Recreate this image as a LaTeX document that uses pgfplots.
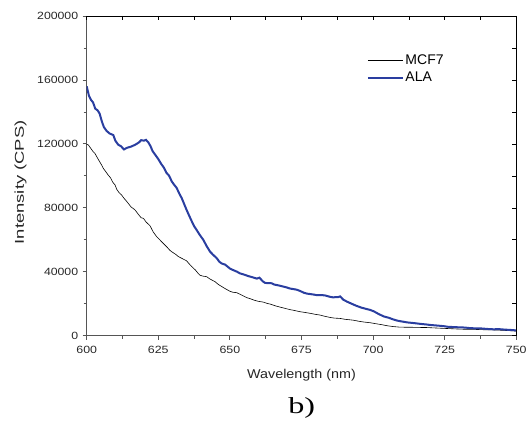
\documentclass[border=0pt]{standalone}
\usepackage{pgfplots}
\pgfplotsset{compat=1.18}
\usepackage{fontspec}
\setmainfont{Liberation Sans}
\newfontfamily\timesfont{Liberation Serif}
\definecolor{alablue}{RGB}{42,62,160}
\definecolor{axgray}{RGB}{85,85,85}

\pgfplotstableread{
x y
600 156000
600.8 150000
601.5 147500
602.2 146000
603 142000
603.8 141000
604.5 139000
605.3 134000
606 130500
607 128000
608 126500
609.3 125500
610 122000
611 119500
612 118500
613 116500
614 117500
615.5 118300
617 119500
618.3 121000
619 122300
620 122000
620.7 122500
621.5 121000
622.3 118500
623 115500
624 113000
625 110500
626 107500
627 105000
627.8 102000
628.8 100000
629.7 96500
630.5 94500
631.4 92500
632.3 89000
633.2 86000
634 82500
634.9 78600
635.8 75000
636.7 71500
637.5 68500
638.4 66100
639.5 63000
640.7 60000
641.9 56000
643.1 52500
644.2 50500
645.4 48500
646.3 46300
647.1 45200
648.3 44500
649 43500
650 42000
651.2 41000
652.5 40000
653.5 39000
655 38200
656.4 37300
658 36500
659.4 35700
660.3 36300
661.5 34000
662.3 33000
664.6 32800
665.5 32000
666.9 31500
668 31000
669.8 30200
671 29500
673.3 28800
674.5 28000
675.9 26800
677 26300
679 25800
680.3 25400
682 25400
683.2 25200
685 24300
686 24000
687.9 24200
688.5 24600
689.6 22500
691 21200
692.5 20000
694 18800
696 17500
697.5 16800
699 16100
700.3 15200
702 13500
703.8 12000
705.5 11200
707 10200
708.5 9400
710 8900
712 8300
714.2 7900
716.5 7400
718.7 7000
720 6700
722 6400
724.5 6000
726 5600
728 5400
730.4 5200
732 5100
734 4700
736.2 4600
738 4500
740 4200
742 4000
744 4100
746 3800
748 3600
750 3300
}\alatable

\pgfplotstableread{
x y
600 119700
600.6 119300
601.5 117000
602.3 115000
602.9 114000
603.5 112000
604.3 109500
605.2 106800
605.8 104700
606.5 103000
607.5 100500
608.3 98800
609.1 96000
609.9 94300
610.5 91500
611.3 89500
612.2 88000
613.0 86000
613.5 85000
614.5 82800
615.5 80500
616.3 79500
616.9 78600
618 76000
619 73800
619.8 73400
620.8 71000
622.1 68800
623.2 65000
624.4 62000
625.5 60000
626.7 57800
628 55500
629 53500
629.7 52500
631 51000
632 49500
633.2 48400
634.9 46800
636 44500
636.7 43200
638 41000
639 38800
639.6 37800
640.5 37300
641.9 36900
643 35500
644.8 33800
646 32000
647.2 30700
648.3 29500
650 27800
651 27200
652.4 26900
654 25500
655.9 23800
657 23200
658.5 22200
659.9 21500
661.7 21000
663 20200
664 19800
666 18600
667.5 17900
669 17200
671 16300
672.5 15800
674.5 15000
676 14600
678 14000
680 13300
681.5 12900
683 12200
685 11400
686.5 11000
688.5 10800
690 10300
693.1 9700
695.4 8900
697 8500
699 8100
701.3 7400
703 6900
705 6200
707.1 5700
709 5400
711 5300
712.9 5300
715 5200
718.7 5100
721 4900
724.5 4600
727 4400
730.4 4100
733 4000
736.2 3900
739 3700
742 3600
745 3400
747 3200
750 2900
}\mcftable

\begin{document}
\begin{tikzpicture}
\useasboundingbox (-86.7pt,-91.3pt) rectangle (441.3pt,335.7pt);
\begin{axis}[
  scale only axis, width=429.6pt, height=319.7pt,
  xmin=600, xmax=750, ymin=0, ymax=200000,
  axis x line*=bottom, axis y line*=left,
  axis line style={-, line width=1.1pt, color=axgray},
  xtick={600,625,...,750}, minor x tick num=1,
  ytick={0,40000,...,200000}, minor y tick num=1,
  xtick pos=left, ytick pos=left,
  tick align=outside,
  major tick length=4pt, minor tick length=3pt,
  tick style={axgray, line width=0.8pt},
  scaled ticks=false,
  xticklabel={\scalebox{1.18}[1]{\pgfmathprintnumber[fixed,precision=0,1000 sep={},assume math mode=true]{\tick}}},
  yticklabel={\scalebox{1.17}[1]{\pgfmathprintnumber[fixed,precision=0,1000 sep={},assume math mode=true]{\tick}}},
  ticklabel style={font=\fontsize{10.5}{12}\selectfont, text=black!85},
  xticklabel style={yshift=-3pt},
  yticklabel style={xshift=-1pt},
  xlabel={\scalebox{1.12}[1]{Wavelength (nm)}},
  ylabel={\scalebox{1.44}[1]{Intensity (CPS)}},
  label style={font=\fontsize{12.8}{14}\selectfont, text=black!85},
  xlabel style={at={(axis description cs:0.5,-0.1229)}, anchor=center},
  ylabel style={at={(axis description cs:-0.1541,0.48)}, anchor=center},
  legend style={at={(rel axis cs:0.652,0.885)}, anchor=north west, draw=none, fill=none,
    font=\fontsize{14}{15}\selectfont, inner sep=0pt, row sep=3.5pt,
    nodes={inner sep=1.5pt}},
  legend cell align=left,
  legend image code/.code={\draw[#1] (0pt,0pt) -- (35pt,0pt);},
]
\addplot[black, line width=0.6pt] table[x=x,y=y] {\mcftable};
\addlegendentry{MCF7}
\addplot[alablue, line width=2pt] table[x=x,y=y] {\alatable};
\addlegendentry{ALA}
\end{axis}
\begin{axis}[
  scale only axis, width=429.6pt, height=319.7pt,
  xmin=600, xmax=750, ymin=0, ymax=200000,
  axis x line*=top, axis y line*=right,
  axis line style={-, line width=0.8pt, color=black},
  xtick={600,612.5,...,750}, ytick={0,20000,...,200000},
  xtick pos=right, ytick pos=right,
  tick align=inside, major tick length=4pt,
  tick style={black, line width=0.6pt},
  xticklabels={}, yticklabels={},
  scaled ticks=false,
]
\end{axis}
\node[font=\timesfont\fontsize{23}{25}\selectfont] at (215pt,-72.3pt) {\scalebox{1.4}[1]{b)}};
\end{tikzpicture}
\end{document}
